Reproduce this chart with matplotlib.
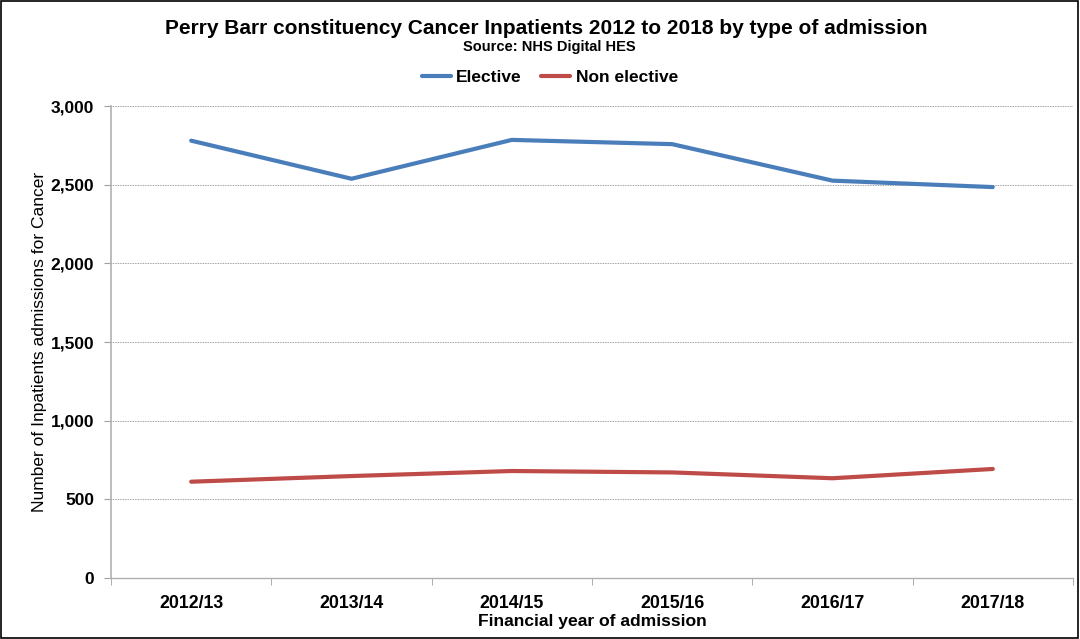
import matplotlib
matplotlib.use("Agg")
import matplotlib.pyplot as plt
from matplotlib.patches import Rectangle
from matplotlib.ticker import FuncFormatter, FixedLocator

plt.rcParams['font.family'] = ['Liberation Sans', 'DejaVu Sans']

years = ["2012/13", "2013/14", "2014/15", "2015/16", "2016/17", "2017/18"]
elective = [2780, 2538, 2785, 2758, 2526, 2485]
non_elective = [612, 648, 680, 671, 634, 693]

fig = plt.figure(figsize=(10.8, 6.39), dpi=100)
ax = fig.add_axes([0.1028, 0.0955, 0.8907, 0.7385])

x = list(range(len(years)))
ax.plot(x, elective, color="#4a7ebb", lw=3.0, label="Elective", solid_capstyle="round")
ax.plot(x, non_elective, color="#be4b48", lw=3.0, label="Non elective", solid_capstyle="round")

ax.set_xlim(-0.5, len(years) - 0.5)
ax.set_ylim(0, 3000)
ax.set_yticks(range(0, 3001, 500))
ax.yaxis.set_major_formatter(FuncFormatter(lambda v, p: f"{int(v):,}"))
ax.grid(axis="y", color="#808080", linestyle=(0, (1, 1)), linewidth=0.6)
ax.set_axisbelow(True)

ax.set_xticks(x)
ax.set_xticklabels(years)
ax.xaxis.set_minor_locator(FixedLocator([i - 0.5 for i in range(len(years) + 1)]))
ax.tick_params(axis="x", which="major", length=0, pad=12, labelsize=12.8)
ax.tick_params(axis="x", which="minor", length=5, color="#a0a0a0", direction="out")
ax.tick_params(axis="y", length=5, color="#a0a0a0", labelsize=12.5, pad=7)
for lab in ax.get_xticklabels() + ax.get_yticklabels():
    lab.set_fontweight("bold")

for s in ["top", "right"]:
    ax.spines[s].set_visible(False)
ax.spines["left"].set_color("#b0b0b0")
ax.spines["bottom"].set_color("#b0b0b0")
ax.spines["left"].set_linewidth(1.2)
ax.spines["bottom"].set_linewidth(1.0)

ax.set_xlabel("Financial year of admission", fontsize=12.6, fontweight="bold", labelpad=2)
ax.set_ylabel("Number of Inpatients admissions for Cancer", fontsize=12.5, fontweight="normal", labelpad=3)

fig.text(0.506, 0.956, "Perry Barr constituency Cancer Inpatients 2012 to 2018 by type of admission",
         ha="center", va="center", fontsize=15, fontweight="bold")
fig.text(0.509, 0.926, "Source: NHS Digital HES", ha="center", va="center", fontsize=10.5, fontweight="bold")

fig.legend(loc="center", bbox_to_anchor=(0.509, 1 - 77 / 639), ncol=2, frameon=False,
           prop={"weight": "bold", "size": 12.5}, handlelength=1.7, handletextpad=0.3, columnspacing=1.1)

fig.patches.append(Rectangle((0.001, 0.002), 0.997, 0.996, transform=fig.transFigure,
                             fill=False, edgecolor="black", linewidth=1.2))

fig.savefig("out.png", dpi=100)
